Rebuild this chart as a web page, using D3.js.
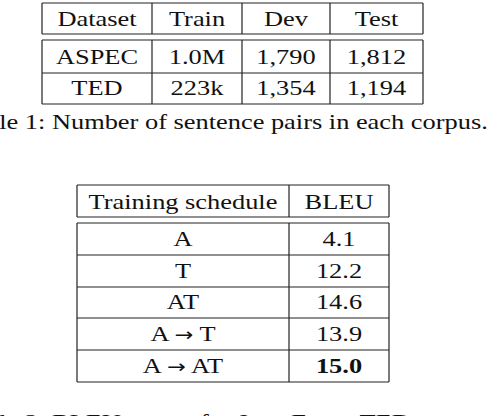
<!DOCTYPE html>
<html><head><meta charset="utf-8">
<script src="https://cdn.jsdelivr.net/npm/d3@7"></script>
<style>body{margin:0;background:#fff}svg{display:block}</style></head>
<body><svg id="c" width="502" height="416"></svg>
<script>
const t1Header = ["Dataset","Train","Dev","Test"];
const t1Rows = [["ASPEC","1.0M","1,790","1,812"],["TED","223k","1,354","1,194"]];
const t1Caption = "Table 1: Number of sentence pairs in each corpus.";
const t2Header = ["Training schedule","BLEU"];
const t2Schedules = ["A","T","AT","A \u2192 T","A \u2192 AT"];
const t2Bleu = ["4.1","12.2","14.6","13.9","15.0"];
const t2Best = "15.0";
const t2Caption = "Table 2: BLEU scores for Ja \u2192 En on TED.";

const svg = d3.select("#c");
const font = "'Liberation Serif', 'DejaVu Serif', serif";
const stroke = "#222";
const SX = 1.2, FS = 22;

function addText(g, s, x, y, anchor, bold) {
  const t = g.append("text").attr("transform",`translate(${x},${y}) scale(${SX},1)`)
    .attr("text-anchor",anchor).attr("font-family",font).attr("font-size",FS)
    .attr("font-weight",bold?"bold":"normal").attr("fill","#111");
  s.split(/(\u2192)/).forEach(part => {
    if (!part) return;
    const ts = t.append("tspan").text(part);
    if (part === "\u2192") ts.attr("font-family","'DejaVu Sans', sans-serif").attr("font-size",FS*0.85);
  });
  return t;
}

function table(cols, headerTop, headerBottom, bodyTop, rowBottoms, header, rows, boldVal) {
  const g = svg.append("g");
  const left = cols[0], right = cols[cols.length-1];
  const hline = y => g.append("line").attr("x1",left).attr("x2",right).attr("y1",y).attr("y2",y).attr("stroke",stroke).attr("stroke-width",1.2);
  [headerTop, headerBottom, bodyTop, ...rowBottoms].forEach(hline);
  const vline = (x,y1,y2) => g.append("line").attr("x1",x).attr("x2",x).attr("y1",y1).attr("y2",y2).attr("stroke",stroke).attr("stroke-width",1.2);
  cols.forEach(x => { vline(x, headerTop, headerBottom); vline(x, bodyTop, rowBottoms[rowBottoms.length-1]); });
  const centers = d3.pairs(cols).map(([a,b]) => (a+b)/2);
  header.forEach((h,i) => addText(g, h, centers[i], headerBottom - 8, "middle", false));
  rows.forEach((r,ri) => r.forEach((c,ci) => addText(g, c, centers[ci], rowBottoms[ri] - 9, "middle", c === boldVal && ci>0)));
}

table([42,152,242,330,423], 3, 34, 40, [73,104], t1Header, t1Rows, null);
addText(svg, t1Caption, -40, 129, "start", false);

table([77,289,389], 185, 217, 223, [255,287,318,350,382], t2Header,
      t2Schedules.map((s,i)=>[s,t2Bleu[i]]), t2Best);
addText(svg, t2Caption, -40, 429, "start", false);
</script></body></html>
